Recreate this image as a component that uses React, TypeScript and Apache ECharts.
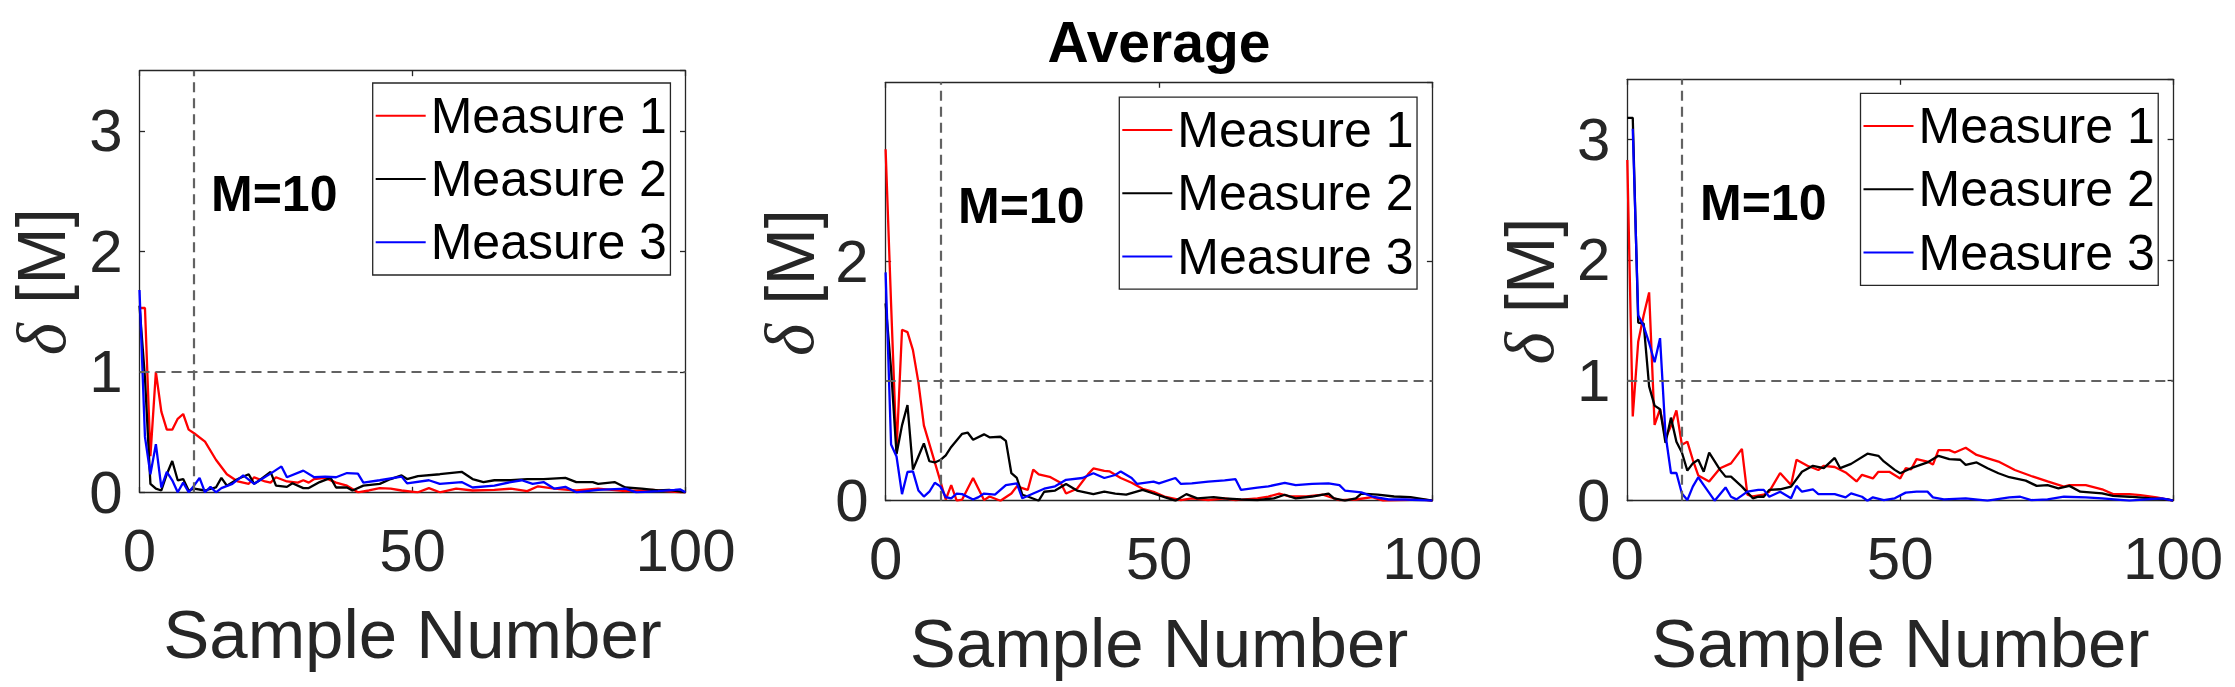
import React, { useEffect, useRef } from "react";
import * as echarts from "echarts";

const seriesNames = ["Measure 1", "Measure 2", "Measure 3"];
const seriesColors = ["#ff0000", "#000000", "#0000ff"];
const xTicks = [0, 50, 100];
const yMax = 3.5;
const yIntervals = [1, 2, 1];
const markerX = 10;
const markerY = 1;
const titleText = "Average";
const annotation = "M=10";

const p1m1 = [[0,1.53],[1,1.53],[2,0.3],[3,1.0],[4,0.67],[5,0.52],[6,0.52],[7,0.61],[8,0.65],[9,0.52],[10,0.49],[12,0.42],[14,0.27],[16,0.15],[18,0.09],[20,0.07],[21,0.125],[23,0.09],[24,0.08],[25,0.125],[27,0.09],[29,0.08],[30,0.1],[31,0.08],[32,0.11],[34,0.12],[36,0.08],[38,0.055],[40,0],[42,0.015],[44,0.035],[46,0.03],[48,0.015],[51,0],[53,0.035],[55,0],[58,0.03],[61,0.015],[65,0.02],[68,0.03],[71,0.01],[73,0.05],[76,0.03],[80,0.015],[84,0.03],[89,0.01],[94,0.02],[99,0],[100,0]];
const p1m2 = [[0,1.55],[1,0.95],[2,0.07],[3,0.03],[4,0.015],[5,0.15],[6,0.26],[7,0.1],[8,0.11],[9,0.015],[10,0.03],[12,0.015],[14,0.04],[15,0.12],[16,0.055],[18,0.11],[20,0.15],[21,0.07],[22,0.1],[24,0.17],[25,0.055],[27,0.045],[28,0.075],[30,0.035],[31,0.035],[33,0.085],[35,0.12],[36,0.04],[38,0.04],[39,0.015],[41,0.055],[44,0.07],[46,0.11],[48,0.14],[49,0.11],[51,0.135],[55,0.15],[59,0.17],[61,0.11],[63,0.085],[65,0.1],[68,0.1],[71,0.11],[74,0.11],[78,0.12],[80,0.085],[83,0.085],[84,0.07],[87,0.085],[89,0.04],[92,0.03],[95,0.015],[97,0.02],[100,0]];
const p1m3 = [[0,1.68],[1,0.46],[2,0.15],[3,0.4],[4,0.04],[5,0.17],[6,0.1],[7,0],[8,0.08],[9,0],[10,0.055],[11,0.12],[12,0],[13,0.045],[14,0],[15,0.035],[17,0.07],[19,0.14],[21,0.07],[24,0.155],[26,0.215],[27,0.125],[30,0.18],[32,0.125],[34,0.13],[36,0.125],[38,0.16],[40,0.155],[41,0.08],[44,0.1],[48,0.13],[49,0.075],[53,0.1],[55,0.07],[59,0.085],[61,0.04],[65,0.055],[68,0.085],[70,0.1],[72,0.07],[74,0.085],[76,0.03],[78,0.045],[80,0],[84,0.02],[89,0.03],[91,0],[95,0.01],[98,0.02],[99,0.025],[100,0]];

const p2m1 = [[0,2.94],[1,1.65],[2,0.42],[3,1.43],[4,1.41],[5,1.26],[6,0.99],[7,0.63],[9,0.32],[11,0.01],[12,0.13],[13,0],[14,0.01],[16,0.19],[18,0.005],[19,0.035],[21,0],[23,0.06],[24,0.12],[26,0.09],[27,0.26],[28,0.22],[30,0.2],[32,0.15],[33,0.06],[35,0.1],[37,0.22],[38,0.27],[40,0.25],[41,0.245],[43,0.19],[45,0.15],[47,0.1],[49,0.075],[51,0.035],[54,0.005],[56,0.02],[59,0.005],[62,0.02],[64,0.005],[68,0.02],[70,0.035],[72,0.06],[74,0.035],[77,0.035],[80,0.05],[83,0.005],[86,0.01],[89,0.03],[91,0],[94,0.005],[98,0.01],[100,0]];
const p2m2 = [[0,1.65],[1,1.1],[2,0.39],[3,0.63],[4,0.8],[5,0.26],[6,0.37],[7,0.48],[8,0.33],[9,0.32],[10,0.34],[11,0.38],[12,0.45],[14,0.56],[15,0.57],[16,0.51],[18,0.555],[19,0.53],[21,0.535],[22,0.5],[23,0.23],[24,0.19],[25,0.05],[26,0.035],[28,0],[29,0.075],[31,0.085],[33,0.14],[35,0.085],[38,0.055],[40,0.075],[42,0.06],[44,0.05],[47,0.09],[49,0.06],[51,0.03],[53,0],[55,0.055],[57,0.02],[60,0.03],[62,0.02],[65,0.01],[68,0.005],[71,0.02],[73,0.05],[75,0.02],[78,0.035],[81,0.06],[82,0.02],[84,0],[86,0.02],[87,0.06],[90,0.05],[93,0.035],[96,0.03],[100,0]];
const p2m3 = [[0,1.91],[1,0.47],[2,0.37],[3,0.055],[4,0.24],[5,0.245],[6,0.085],[7,0.035],[8,0.075],[9,0.15],[10,0.12],[11,0.03],[12,0.02],[13,0.06],[14,0.055],[16,0.01],[17,0.03],[18,0.06],[20,0.05],[22,0.13],[24,0.145],[25,0.02],[27,0.06],[29,0.1],[31,0.12],[33,0.175],[36,0.19],[38,0.23],[40,0.19],[42,0.215],[43,0.245],[45,0.19],[46,0.14],[49,0.16],[50,0.145],[53,0.19],[54,0.14],[56,0.145],[59,0.16],[62,0.17],[64,0.18],[65,0.09],[68,0.11],[70,0.12],[73,0.15],[75,0.13],[78,0.14],[81,0.145],[83,0.13],[84,0.085],[87,0.07],[89,0.035],[92,0.01],[95,0.01],[100,0]];

const p3m1 = [[0,2.83],[1,0.7],[2,1.32],[3,1.54],[4,1.73],[5,0.63],[6,0.76],[7,0.52],[8,0.62],[9,0.75],[10,0.465],[11,0.49],[12,0.34],[13,0.21],[15,0.16],[17,0.27],[19,0.31],[21,0.43],[22,0.05],[23,0.035],[25,0.05],[26,0.075],[28,0.23],[30,0.13],[31,0.34],[33,0.29],[35,0.255],[36,0.29],[38,0.28],[40,0.235],[42,0.16],[43,0.215],[45,0.185],[46,0.24],[48,0.24],[50,0.185],[51,0.27],[52,0.26],[53,0.345],[55,0.325],[56,0.3],[57,0.42],[59,0.42],[60,0.4],[62,0.44],[64,0.38],[68,0.325],[71,0.255],[74,0.205],[77,0.16],[80,0.117],[81,0.13],[84,0.13],[87,0.095],[89,0.055],[92,0.055],[94,0.047],[97,0.028],[100,0]];
const p3m2 = [[0,3.18],[1,3.18],[2,1.48],[3,1.47],[4,0.95],[5,0.79],[6,0.76],[7,0.48],[8,0.69],[9,0.49],[10,0.4],[11,0.25],[12,0.31],[13,0.34],[14,0.24],[15,0.4],[17,0.256],[18,0.2],[19,0.2],[21,0.117],[23,0.02],[24,0.033],[25,0.033],[26,0.09],[28,0.095],[30,0.117],[32,0.24],[34,0.29],[36,0.27],[38,0.355],[39,0.27],[41,0.306],[44,0.39],[46,0.373],[47,0.326],[49,0.256],[50,0.228],[52,0.27],[55,0.318],[57,0.373],[59,0.345],[61,0.34],[62,0.298],[64,0.318],[66,0.27],[68,0.228],[70,0.195],[73,0.167],[75,0.123],[77,0.13],[79,0.103],[81,0.123],[83,0.075],[87,0.061],[89,0.04],[92,0.033],[96,0.02],[99,0.01],[100,0]];
const p3m3 = [[1,3.09],[2,1.54],[3,1.45],[4,1.31],[5,1.15],[6,1.35],[7,0.55],[8,0.23],[9,0.23],[10,0.06],[11,0.005],[12,0.117],[13,0.195],[14,0.13],[16,0],[18,0.11],[19,0.033],[20,0.011],[22,0.075],[24,0.09],[25,0.09],[26,0.033],[28,0.075],[30,0.02],[31,0.123],[32,0.075],[34,0.095],[35,0.055],[38,0.055],[40,0.028],[41,0.061],[43,0.033],[44,0],[45,0.028],[47,0.005],[49,0.02],[51,0.067],[53,0.075],[55,0.075],[56,0.028],[58,0.011],[62,0.02],[66,0],[70,0.028],[72,0.033],[74,0.005],[77,0.011],[80,0.033],[84,0.028],[87,0.02],[92,0],[95,0.011],[98,0.02],[100,0]];

const panelData = [
  [p1m1, p1m2, p1m3],
  [p2m1, p2m2, p2m3],
  [p3m1, p3m2, p3m3],
];

// layout (pixels)
const grids = [
  { left: 139.5, top: 70.7, width: 546, height: 421.6 },
  { left: 885.6, top: 82.3, width: 546.8, height: 418.4 },
  { left: 1627.3, top: 79.3, width: 545.8, height: 421.4 },
];
const legendPos = [
  { left: 372.7, top: 83 },
  { left: 1119.3, top: 97.2 },
  { left: 1860.5, top: 93.3 },
];
const annotPos = [
  { x: 211, y: 194 },
  { x: 958, y: 205.5 },
  { x: 1700, y: 203 },
];
const yLabelPos = [
  { x: 41.5, y: 281.7 },
  { x: 790, y: 282.5 },
  { x: 1530, y: 291 },
];

const SANS = "'Liberation Sans', Arial, Helvetica, sans-serif";
const SERIF = "'Liberation Serif', 'DejaVu Serif', serif";
const AXIS_COLOR = "#262626";

function buildOption() {
  const xAxis: any[] = [];
  const yAxis: any[] = [];
  const series: any[] = [];
  const legend: any[] = [];
  const graphic: any[] = [];

  grids.forEach((g, i) => {
    const axisLine = { show: true, onZero: false, lineStyle: { color: AXIS_COLOR, width: 1.3 } };
    const tick = { show: true, inside: true, length: 5.5, lineStyle: { color: AXIS_COLOR, width: 1.3 } };
    xAxis.push({
      gridIndex: i,
      type: "value",
      min: xTicks[0],
      max: xTicks[xTicks.length - 1],
      interval: xTicks[1] - xTicks[0],
      position: "bottom",
      axisLine,
      axisTick: tick,
      splitLine: { show: false },
      axisLabel: { fontFamily: SANS, fontSize: 60, color: AXIS_COLOR, margin: 28 },
      name: "Sample Number",
      nameLocation: "middle",
      nameGap: 108,
      nameTextStyle: { fontFamily: SANS, fontSize: 69, color: AXIS_COLOR },
    });
    xAxis.push({
      gridIndex: i,
      type: "value",
      min: xTicks[0],
      max: xTicks[xTicks.length - 1],
      interval: xTicks[1] - xTicks[0],
      position: "top",
      axisLine,
      axisTick: tick,
      splitLine: { show: false },
      axisLabel: { show: false },
    });
    yAxis.push({
      gridIndex: i,
      type: "value",
      min: 0,
      max: yMax,
      interval: yIntervals[i],
      position: "left",
      axisLine,
      axisTick: tick,
      splitLine: { show: false },
      axisLabel: {
        fontFamily: SANS,
        fontSize: 60,
        color: AXIS_COLOR,
        margin: 17,
        showMaxLabel: false,
      },
    });
    yAxis.push({
      gridIndex: i,
      type: "value",
      min: 0,
      max: yMax,
      interval: yIntervals[i],
      position: "right",
      axisLine,
      axisTick: tick,
      splitLine: { show: false },
      axisLabel: { show: false },
    });

    panelData[i].forEach((d, k) => {
      const s: any = {
        name: seriesNames[k],
        type: "line",
        xAxisIndex: i * 2,
        yAxisIndex: i * 2,
        data: d,
        symbol: "none",
        showSymbol: false,
        color: seriesColors[k],
        lineStyle: { color: seriesColors[k], width: 2.3 },
        emphasis: { disabled: true },
        silent: true,
        z: 3,
      };
      if (k === 0) {
        s.markLine = {
          silent: true,
          symbol: ["none", "none"],
          label: { show: false },
          emphasis: { disabled: true },
          lineStyle: { color: "#626262", width: 2.2, type: [10, 6] },
          data: [{ xAxis: markerX }, { yAxis: markerY }],
        };
      }
      series.push(s);
    });

    legend.push({
      data: seriesNames,
      orient: "vertical",
      left: legendPos[i].left,
      top: legendPos[i].top,
      selectedMode: false,
      icon: "rect",
      itemWidth: 50,
      itemHeight: 2,
      itemGap: 4.3,
      padding: [3.2, 3.5, 3.2, 3],
      backgroundColor: "#ffffff",
      borderColor: AXIS_COLOR,
      borderWidth: 1.3,
      textStyle: {
        fontFamily: SANS,
        fontSize: 50,
        color: "#000000",
        lineHeight: 50,
        padding: [9, 0, 0, 0],
      },
    });

    graphic.push({
      type: "text",
      x: annotPos[i].x,
      y: annotPos[i].y,
      style: {
        text: annotation,
        fontFamily: SANS,
        fontSize: 50,
        fontWeight: "bold",
        fill: "#000000",
        align: "left",
        verticalAlign: "middle",
      },
      z: 10,
    });
    graphic.push({
      type: "text",
      x: yLabelPos[i].x,
      y: yLabelPos[i].y,
      rotation: Math.PI / 2,
      style: {
        text: "{d|δ}{m| [M]}",
        rich: {
          d: {
            fontFamily: SERIF,
            fontStyle: "italic",
            fontSize: 69,
            fill: AXIS_COLOR,
          },
          m: {
            fontFamily: SANS,
            fontSize: 69,
            fill: AXIS_COLOR,
          },
        },
        fontFamily: SANS,
        fontSize: 69,
        fill: AXIS_COLOR,
        align: "center",
        verticalAlign: "middle",
      },
      z: 10,
    });
  });

  graphic.push({
    type: "text",
    x: 1159,
    y: 41.6,
    style: {
      text: titleText,
      fontFamily: SANS,
      fontSize: 57,
      fontWeight: "bold",
      fill: "#000000",
      align: "center",
      verticalAlign: "middle",
    },
    z: 10,
  });

  return {
    animation: false,
    backgroundColor: "#ffffff",
    grid: grids.map((g) => ({ ...g, containLabel: false })),
    xAxis,
    yAxis,
    series,
    legend,
    graphic,
  };
}

export default function App() {
  const ref = useRef<HTMLDivElement>(null);
  useEffect(() => {
    if (!ref.current) return;
    const chart = echarts.init(ref.current, null, { renderer: "svg" });
    chart.setOption(buildOption());
    return () => {
      chart.dispose();
    };
  }, []);
  return (
    <div
      ref={ref}
      style={{ position: "fixed", left: 0, top: 0, width: 2235, height: 687, background: "#fff" }}
    />
  );
}
